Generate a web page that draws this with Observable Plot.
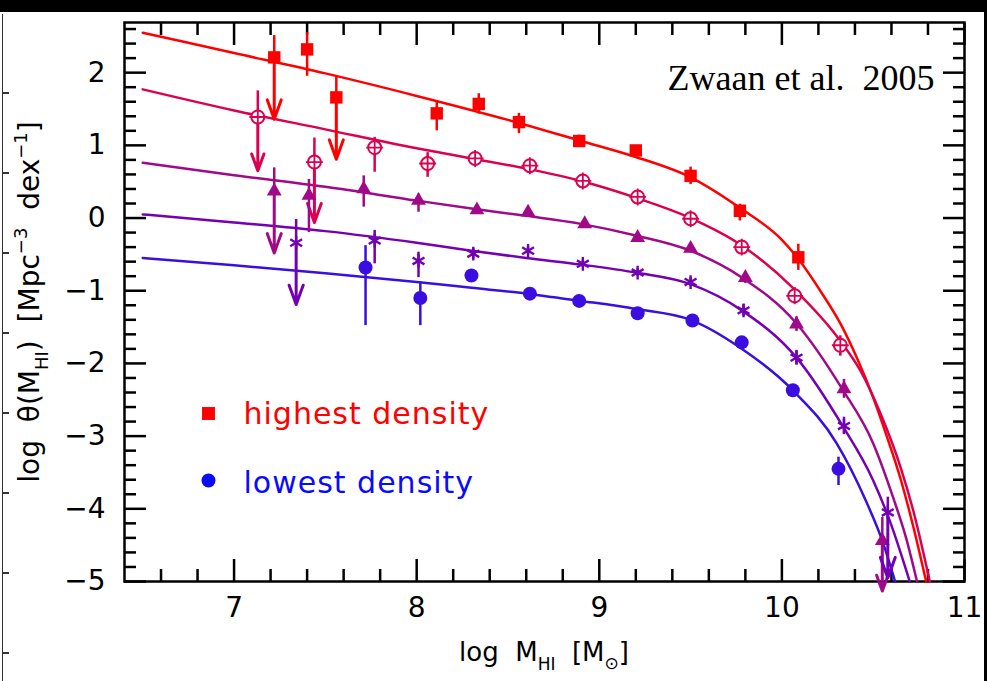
<!DOCTYPE html>
<html>
<head>
<meta charset="utf-8">
<script src="https://cdn.jsdelivr.net/npm/d3@7"></script>
<script src="https://cdn.jsdelivr.net/npm/@observablehq/plot@0.6"></script>
<style>
html, body { margin: 0; padding: 0; background: #fff; }
#wrap { position: relative; width: 987px; height: 681px; overflow: hidden; background: #fff; }
#chart svg { display: block; }
.bar { position: absolute; background: #000; }
#leftline { position: absolute; left: 2px; top: 14px; width: 6px; height: 667px;
  border-left: 1.5px solid #333;
  background: repeating-linear-gradient(to bottom, transparent 0px, transparent 78px, #333 78px, #333 80px); }
</style>
</head>
<body>
<div id="wrap">
  <div id="chart"></div>
  <div class="bar" style="left:0;top:0;width:987px;height:12px"></div>
  <div class="bar" style="right:0;top:0;width:3px;height:681px"></div>
  <div id="leftline"></div>
</div>
<script>
// ---------- axis ticks ----------
const xMajor = [7, 8, 9, 10, 11];
const yMajor = [-5, -4, -3, -2, -1, 0, 1, 2];
const xTickLabels = ["7", "8", "9", "10", "11"];
const yTickLabels = ["\u22125", "\u22124", "\u22123", "\u22122", "\u22121", "0", "1", "2"];
const xMinor = [6.6, 6.8, 7.2, 7.4, 7.6, 7.8, 8.2, 8.4, 8.6, 8.8, 9.2, 9.4, 9.6, 9.8, 10.2, 10.4, 10.6, 10.8];
const yMinor = [-4.8, -4.6, -4.4, -4.2, -3.8, -3.6, -3.4, -3.2, -2.8, -2.6, -2.4, -2.2, -1.8, -1.6, -1.4, -1.2,
  -0.8, -0.6, -0.4, -0.2, 0.2, 0.4, 0.6, 0.8, 1.2, 1.4, 1.6, 1.8, 2.2, 2.4, 2.6];

// ---------- Schechter fit curves ----------
const fit1X = [6.50, 7.00, 7.50, 8.00, 8.50, 8.90, 9.20, 9.50, 9.77, 10.00, 10.08, 10.21, 10.32, 10.41, 10.50, 10.57, 10.65, 10.72, 10.79];
const fit1Y = [2.55, 2.27, 1.99, 1.68, 1.35, 1.06, 0.84, 0.56, 0.14, -0.30, -0.53, -1.00, -1.45, -1.92, -2.47, -2.97, -3.59, -4.25, -5.00];
const fit2X = [6.50, 7.00, 7.50, 8.00, 8.30, 8.60, 8.90, 9.20, 9.50, 9.77, 10.06, 10.32, 10.43, 10.54, 10.65, 10.72, 10.81];
const fit2Y = [1.77, 1.48, 1.22, 0.96, 0.82, 0.68, 0.51, 0.28, 0.00, -0.36, -0.96, -1.69, -2.10, -2.69, -3.43, -4.03, -5.00];
const fit3X = [6.50, 7.00, 7.50, 8.00, 8.30, 8.60, 8.90, 9.20, 9.50, 9.77, 10.08, 10.33, 10.50, 10.61, 10.68, 10.74];
const fit3Y = [0.76, 0.59, 0.43, 0.24, 0.13, 0.03, -0.08, -0.24, -0.45, -0.80, -1.45, -2.35, -3.10, -3.85, -4.40, -5.00];
const fit4X = [6.50, 7.00, 7.50, 8.00, 8.30, 8.60, 8.90, 9.20, 9.50, 9.78, 10.08, 10.33, 10.50, 10.59, 10.70];
const fit4Y = [0.05, -0.06, -0.18, -0.34, -0.45, -0.55, -0.64, -0.75, -0.91, -1.27, -1.92, -2.85, -3.61, -4.16, -5.00];
const fit5X = [6.50, 7.00, 7.50, 8.00, 8.30, 8.60, 8.90, 9.20, 9.50, 9.77, 10.06, 10.30, 10.46, 10.55, 10.62];
const fit5Y = [-0.55, -0.65, -0.76, -0.88, -0.96, -1.04, -1.14, -1.25, -1.40, -1.78, -2.37, -3.10, -3.89, -4.44, -5.00];

// ---------- measured points: x, y, error low, error high ----------
const s1X  = [7.22, 7.40, 7.56, 8.11, 8.34, 8.56, 8.89, 9.20, 9.50, 9.77, 10.09];
const s1Y  = [2.21, 2.32, 1.66, 1.44, 1.57, 1.32, 1.06, 0.93, 0.58, 0.10, -0.54];
const s1Lo = [2.21, 1.95, 1.66, 1.20, 1.43, 1.16, 0.97, 0.87, 0.46, -0.04, -0.72];
const s1Hi = [2.51, 2.55, 1.95, 1.61, 1.71, 1.44, 1.14, 0.99, 0.70, 0.19, -0.36];
const s1LimX = [7.22, 7.56], s1LimFrom = [2.21, 1.66], s1LimTo = [1.36, 0.81];

const s2X  = [7.13, 7.44, 7.77, 8.06, 8.32, 8.62, 8.91, 9.21, 9.50, 9.78, 10.07, 10.32];
const s2Y  = [1.39, 0.77, 0.97, 0.75, 0.82, 0.72, 0.51, 0.29, -0.01, -0.40, -1.07, -1.75];
const s2Lo = [1.39, 0.77, 0.63, 0.56, 0.74, 0.65, 0.45, 0.23, -0.08, -0.48, -1.18, -1.90];
const s2Hi = [1.75, 1.10, 1.11, 0.90, 0.90, 0.79, 0.57, 0.35, 0.06, -0.32, -0.96, -1.62];
const s2LimX = [7.13, 7.44], s2LimFrom = [1.39, 0.77], s2LimTo = [0.65, -0.06];

const s3X  = [7.22, 7.41, 7.71, 8.01, 8.33, 8.61, 8.92, 9.21, 9.50, 9.80, 10.08, 10.34, 10.55];
const s3Y  = [0.37, 0.31, 0.40, 0.24, 0.11, 0.08, -0.08, -0.27, -0.42, -0.82, -1.46, -2.35, -4.44];
const s3Lo = [0.37, -0.20, 0.15, 0.08, 0.05, 0.03, -0.13, -0.32, -0.48, -0.90, -1.56, -2.48, -4.44];
const s3Hi = [0.69, 0.53, 0.58, 0.33, 0.17, 0.13, -0.03, -0.22, -0.36, -0.74, -1.36, -2.22, -4.12];
const s3LimX = [7.22, 10.55], s3LimFrom = [0.37, -4.44], s3LimTo = [-0.48, -5.13];

const s4X  = [7.34, 7.77, 8.01, 8.31, 8.61, 8.91, 9.21, 9.50, 9.79, 10.08, 10.34, 10.58];
const s4Y  = [-0.34, -0.31, -0.59, -0.49, -0.45, -0.63, -0.75, -0.88, -1.27, -1.92, -2.86, -4.05];
const s4Lo = [-0.34, -0.63, -0.82, -0.56, -0.50, -0.68, -0.80, -0.94, -1.35, -2.02, -2.98, -4.05];
const s4Hi = [-0.02, -0.17, -0.47, -0.42, -0.40, -0.58, -0.70, -0.82, -1.19, -1.82, -2.74, -3.84];
const s4LimX = [7.34, 10.58], s4LimFrom = [-0.34, -4.05], s4LimTo = [-1.19, -4.95];

const s5X  = [7.72, 8.02, 8.30, 8.62, 8.89, 9.21, 9.51, 9.78, 10.06, 10.31];
const s5Y  = [-0.68, -1.10, -0.79, -1.04, -1.14, -1.31, -1.41, -1.71, -2.37, -3.45];
const s5Lo = [-1.48, -1.48, -0.86, -1.10, -1.19, -1.36, -1.47, -1.77, -2.45, -3.68];
const s5Hi = [-0.38, -0.88, -0.72, -0.98, -1.09, -1.26, -1.35, -1.65, -2.29, -3.29];
const s5LimX = [], s5LimFrom = [], s5LimTo = [];

const legendLabels = ["highest density", "lowest density"];
const annotation = "Zwaan et al.\u00a0 2005";

// ---------- styles ----------
const densityColors = ["#ff0000", "#dc0050", "#a00a88", "#7400b4", "#3a0ee0"];
const legendColors = ["#ff0000", "#0a0aff"];

const series = [
  {fx: fit1X, fy: fit1Y, x: s1X, y: s1Y, lo: s1Lo, hi: s1Hi, lx: s1LimX, lf: s1LimFrom, lt: s1LimTo},
  {fx: fit2X, fy: fit2Y, x: s2X, y: s2Y, lo: s2Lo, hi: s2Hi, lx: s2LimX, lf: s2LimFrom, lt: s2LimTo},
  {fx: fit3X, fy: fit3Y, x: s3X, y: s3Y, lo: s3Lo, hi: s3Hi, lx: s3LimX, lf: s3LimFrom, lt: s3LimTo},
  {fx: fit4X, fy: fit4Y, x: s4X, y: s4Y, lo: s4Lo, hi: s4Hi, lx: s4LimX, lf: s4LimFrom, lt: s4LimTo},
  {fx: fit5X, fy: fit5Y, x: s5X, y: s5Y, lo: s5Lo, hi: s5Hi, lx: s5LimX, lf: s5LimFrom, lt: s5LimTo}
];

const SW = 2.5;
const blank = () => "";
const xFmt = d => xTickLabels[xMajor.indexOf(d)];
const yFmt = d => yTickLabels[yMajor.indexOf(d)];
const marks = [
  Plot.axisX(xMajor, {anchor: "bottom", tickSize: -22, tickFormat: blank, label: null, strokeWidth: SW}),
  Plot.axisX(xMinor, {anchor: "bottom", tickSize: -12, tickFormat: blank, label: null, strokeWidth: SW}),
  Plot.axisX(xMajor, {anchor: "top", tickSize: -22, tickFormat: blank, label: null, strokeWidth: SW}),
  Plot.axisX(xMinor, {anchor: "top", tickSize: -12, tickFormat: blank, label: null, strokeWidth: SW}),
  Plot.axisY(yMajor, {anchor: "left", tickSize: -22, tickFormat: blank, label: null, strokeWidth: SW}),
  Plot.axisY(yMinor, {anchor: "left", tickSize: -12, tickFormat: blank, label: null, strokeWidth: SW}),
  Plot.axisY(yMajor, {anchor: "right", tickSize: -22, tickFormat: blank, label: null, strokeWidth: SW}),
  Plot.axisY(yMinor, {anchor: "right", tickSize: -12, tickFormat: blank, label: null, strokeWidth: SW}),
  Plot.axisX(xMajor, {anchor: "bottom", tickSize: 0, tickPadding: 16, label: null, fontSize: 28, tickFormat: xFmt}),
  Plot.axisY(yMajor, {anchor: "left", tickSize: 0, tickPadding: 19, label: null, fontSize: 28, tickFormat: yFmt}),
  Plot.frame({stroke: "black", strokeWidth: SW})
];

series.forEach((s, i) => {
  const color = densityColors[i];
  const fit = s.fx.map((x, j) => ({x, y: s.fy[j]}));
  marks.push(Plot.line(fit, {x: "x", y: "y", stroke: color, strokeWidth: SW, curve: "monotone-x"}));
});

series.forEach((s, i) => {
  const color = densityColors[i];
  const pts = s.x.map((x, j) => ({x, y: s.y[j], lo: s.lo[j], hi: s.hi[j]}));
  const lims = s.lx.map((x, j) => ({x, from: s.lf[j], to: s.lt[j]}));
  marks.push(Plot.ruleX(pts, {x: "x", y1: "lo", y2: "hi", stroke: color, strokeWidth: SW}));
  marks.push(Plot.arrow(lims, {x: "x", y1: "from", y2: "to", stroke: color, strokeWidth: 3, headLength: 14, headAngle: 40}));
  if (i === 0) marks.push(Plot.dot(pts, {x: "x", y: "y", symbol: "square", fill: color, r: 7}));
  if (i === 1) {
    marks.push(Plot.dot(pts, {x: "x", y: "y", symbol: "circle", fill: "white", stroke: color, strokeWidth: 2, r: 6.5}));
    marks.push(Plot.dot(pts, {x: "x", y: "y", symbol: "plus", stroke: color, strokeWidth: 1.8, r: 5.5}));
  }
  if (i === 2) marks.push(Plot.dot(pts, {x: "x", y: "y", symbol: "triangle", fill: color, r: 5.5}));
  if (i === 3) marks.push(Plot.dot(pts, {x: "x", y: "y", symbol: "asterisk", stroke: color, strokeWidth: 2.4, r: 6.5}));
  if (i === 4) marks.push(Plot.dot(pts, {x: "x", y: "y", symbol: "circle", fill: color, r: 7}));
});

// legend
marks.push(Plot.dot([legendLabels[0]], {frameAnchor: "top-left", dx: 84, dy: 391, symbol: "square", fill: legendColors[0], r: 7.3}));
marks.push(Plot.dot([legendLabels[1]], {frameAnchor: "top-left", dx: 84, dy: 458, symbol: "circle", fill: legendColors[1], r: 7}));
marks.push(Plot.text([legendLabels[0]], {frameAnchor: "top-left", dx: 119, dy: 392, textAnchor: "start", lineAnchor: "middle", fill: legendColors[0], fontSize: 30, className: "legtext"}));
marks.push(Plot.text([legendLabels[1]], {frameAnchor: "top-left", dx: 119, dy: 461, textAnchor: "start", lineAnchor: "middle", fill: legendColors[1], fontSize: 30, className: "legtext"}));
// annotation
marks.push(Plot.text([annotation], {frameAnchor: "top-left", dx: 543, dy: 55.5, textAnchor: "start", lineAnchor: "middle", fill: "black", fontSize: 36, fontFamily: "'Liberation Serif', 'Times New Roman', serif"}));

const chart = Plot.plot({
  width: 987,
  height: 681,
  marginLeft: 124,
  marginRight: 23,
  marginTop: 22,
  marginBottom: 100,
  style: {fontFamily: "'DejaVu Sans', sans-serif", fontSize: "28px", background: "white", color: "black", overflow: "visible"},
  x: {domain: [6.4, 11]},
  y: {domain: [-5, 2.69]},
  marks
});
document.getElementById("chart").appendChild(chart);

const svg = d3.select(chart);
svg.selectAll(".legtext text").style("letter-spacing", "1px");

// axis titles with sub/superscripts
const xl = svg.append("text")
  .attr("x", 544).attr("y", 661)
  .attr("text-anchor", "middle")
  .attr("font-family", "'DejaVu Sans', sans-serif")
  .attr("font-size", 26).attr("fill", "black");
xl.append("tspan").text("log\u00a0\u00a0M");
xl.append("tspan").attr("font-size", 17).attr("dy", 9).text("HI");
xl.append("tspan").attr("font-size", 26).attr("dy", -9).text("\u00a0\u00a0[M");
xl.append("tspan").attr("font-size", 17).attr("dy", 8).text("\u2299");
xl.append("tspan").attr("font-size", 26).attr("dy", -8).text("]");

const yl = svg.append("text")
  .attr("transform", "translate(39,302) rotate(-90)")
  .attr("text-anchor", "middle")
  .attr("font-family", "'DejaVu Sans', sans-serif")
  .attr("font-size", 28).attr("fill", "black");
yl.append("tspan").text("log\u00a0\u00a0\u03b8(M");
yl.append("tspan").attr("font-size", 18).attr("dy", 9).text("HI");
yl.append("tspan").attr("font-size", 28).attr("dy", -9).text(")\u00a0\u00a0[Mpc");
yl.append("tspan").attr("font-size", 18).attr("dy", -12).text("\u22123");
yl.append("tspan").attr("font-size", 28).attr("dy", 12).text("\u00a0\u00a0dex");
yl.append("tspan").attr("font-size", 18).attr("dy", -12).text("\u22121");
yl.append("tspan").attr("font-size", 28).attr("dy", 12).text("]");
</script>
</body>
</html>
